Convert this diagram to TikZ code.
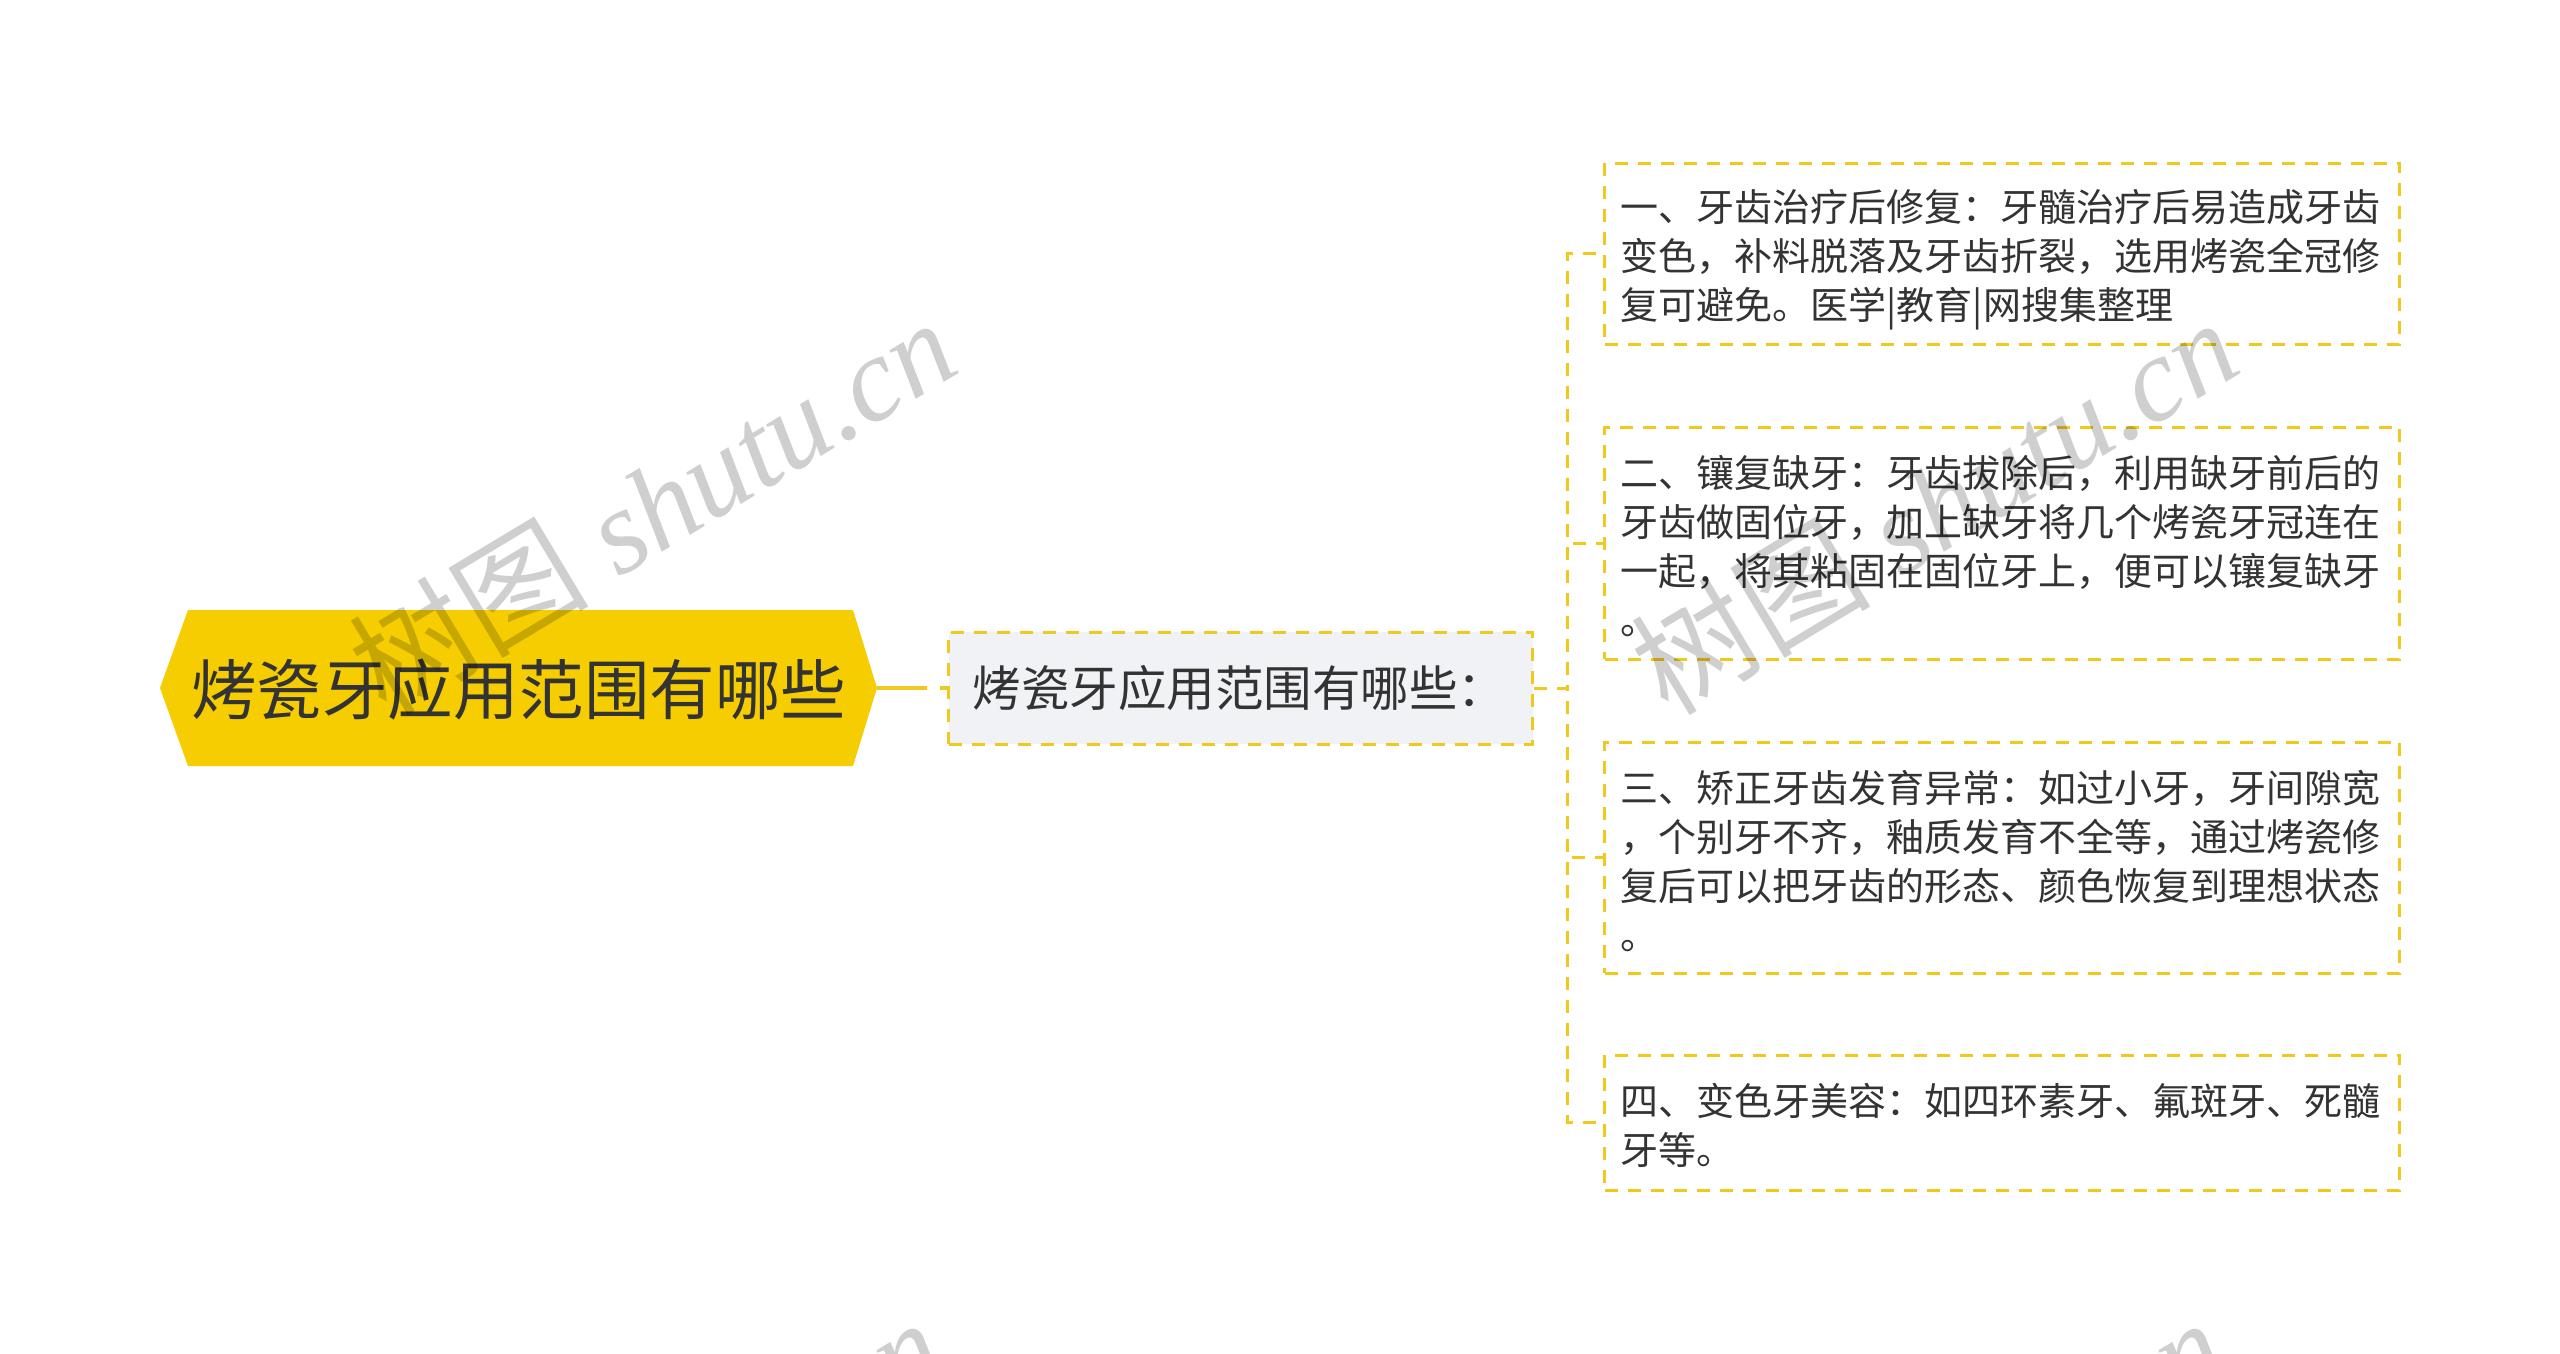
\documentclass[tikz,border=0pt]{standalone}
\usepackage{fontspec}
\setmainfont{Liberation Serif}
\newfontfamily\cjk{Noto Sans CJK SC}
\newfontfamily\wmserif{Liberation Serif}
\usetikzlibrary{calc}
\definecolor{rooty}{RGB}{245,205,0}
\definecolor{bordy}{RGB}{240,200,30}
\definecolor{txt}{RGB}{51,51,51}
\definecolor{subfill}{RGB}{240,242,245}
\begin{document}
\begin{tikzpicture}[x=1pt,y=-1pt,
  dashline/.style={draw=bordy,line width=3pt,dash pattern=on 13pt off 10pt},
  rootline/.style={draw=bordy,line width=4.5pt,dash pattern=on 50pt off 13pt on 20pt},
  roottext/.style={text=txt,font=\cjk\fontsize{65.5}{70}\selectfont,inner sep=0pt},
  subbox/.style={dashline,fill=subfill,text=txt,font=\cjk\fontsize{48.5}{52}\selectfont,
    text width=536pt,align=left,inner xsep=24pt,inner ysep=0pt,minimum height=112pt,anchor=west},
  leafbox/.style={dashline,fill=white,text=txt,font=\cjk\fontsize{38}{49}\selectfont,
    text width=763pt,align=left,inner xsep=16pt,inner ysep=0pt,minimum width=795pt,anchor=west},
  lowered/.style={execute at begin node={\rule{0pt}{#1}}},
  wm/.style={rotate=31,text=black,text opacity=0.19,inner sep=0pt}
]
\useasboundingbox (0,0) rectangle (2560,1353);
\fill[white] (0,0) rectangle (2560,1353);

% root hexagon
\fill[rooty] (160,688) -- (188,610) -- (853,610) -- (877,688) -- (853,766) -- (188,766) -- cycle;
\coordinate (rootE) at (877,688);
\node[roottext] (root) at (518.5,690) {烤瓷牙应用范围有哪些};

% sub node
\node[subbox] (sub) at (947,688) {烤瓷牙应用范围有哪些：};

% leaves
\node[leafbox,lowered=45pt,minimum height=181pt] (l1) at (1603,253.5) {一、牙齿治疗后修复：牙髓治疗后易造成牙齿\\变色，补料脱落及牙齿折裂，选用烤瓷全冠修\\复可避免。医学|教育|网搜集整理};
\node[leafbox,lowered=38.5pt,minimum height=232pt] (l2) at (1603,543) {二、镶复缺牙：牙齿拔除后，利用缺牙前后的\\牙齿做固位牙，加上缺牙将几个烤瓷牙冠连在\\一起，将其粘固在固位牙上，便可以镶复缺牙\\。};
\node[leafbox,lowered=38.5pt,minimum height=231pt] (l3) at (1603,857.5) {三、矫正牙齿发育异常：如过小牙，牙间隙宽\\，个别牙不齐，釉质发育不全等，通过烤瓷修\\复后可以把牙齿的形态、颜色恢复到理想状态\\。};
\node[leafbox,lowered=38.5pt,minimum height=135pt] (l4) at (1603,1122.5) {四、变色牙美容：如四环素牙、氟斑牙、死髓\\牙等。};

% connectors
\coordinate (trunk) at (1567,0);
\draw[rootline] (rootE) -- (sub.west);
\foreach \l in {l1,l2,l3,l4}
  \draw[dashline] (sub.east) -- (sub.east -| trunk) |- (\l.west);

% watermarks
\begin{scope}
\clip (0,0) rectangle (2560,1353);
\foreach \p in {(652,505),(1934,505),(639,1505),(1921,1505)}
  \node[wm] at \p {\fontsize{120}{130}\selectfont{\cjk 树图} {\wmserif\itshape shutu.cn}};
\end{scope}
\end{tikzpicture}
\end{document}
